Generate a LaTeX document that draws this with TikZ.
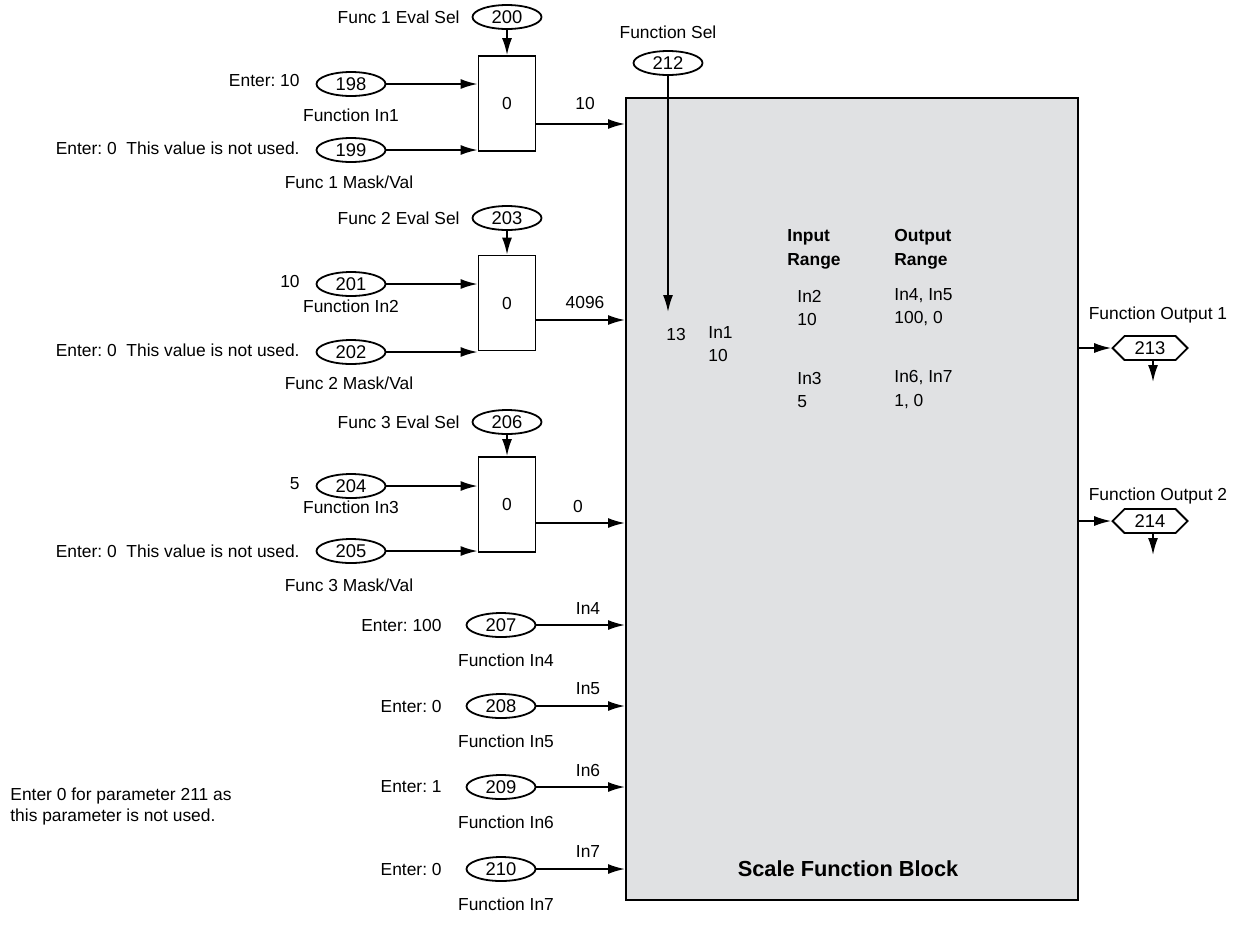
\documentclass[tikz,border=0pt]{standalone}
\usepackage{fontspec}
\setmainfont{Liberation Sans}
\usetikzlibrary{shapes.geometric, shapes.symbols, arrows.meta}

\definecolor{boxgray}{RGB}{224,225,227}
\frenchspacing

\begin{document}
\begin{tikzpicture}[x=0.5pt, y=-0.5pt, font=\fontsize{8.7}{10.5}\selectfont,
    par/.style={ellipse, draw, line width=0.9pt, minimum width=34.5pt, minimum height=12pt, inner sep=0pt, font=\fontsize{9.2}{10}\selectfont},
    mux/.style={rectangle, draw, line width=0.9pt, minimum width=28.5pt, minimum height=47.5pt},
    tag/.style={signal, signal to=east and west, draw, line width=0.9pt, minimum width=37.5pt, minimum height=12pt, inner sep=1pt, font=\fontsize{9.2}{10}\selectfont},
    sig/.style={line width=0.9pt, -{Latex[length=8.5pt, width=5pt]}},
    lbl/.style={inner sep=0pt}]
    \useasboundingbox (0,0) rectangle (1240,928);

    % Scale function block
    \node[draw, line width=0.9pt, fill=boxgray, minimum width=226pt, minimum height=401pt, anchor=north west] (SFB) at (625,97) {};
    \node[lbl, font=\fontsize{10.9}{13}\selectfont\bfseries] (SFB_T) at (848,869) {Scale Function Block};

    % Function 1
    \node[par] (P_200) at (507,17) {200};
    \node[lbl, anchor=east] (L_200) at (460,17) {Func 1 Eval Sel};
    \node[mux] (Mux_1) at (507,103.5) {0};
    \node[par] (P_198) at (351,84) {198};
    \node[lbl, anchor=east] (E_198) at (300,81) {Enter: 10};
    \node[lbl] (L_198) at (351,115) {Function In1};
    \node[par] (P_199) at (351,150) {199};
    \node[lbl, anchor=east] (E_199) at (300,148) {Enter: 0\ \ This value is not used.};
    \node[lbl] (L_199) at (349,182) {Func 1 Mask/Val};
    \node[lbl] (O_1) at (585,104) {10};

    % Function 2
    \node[par] (P_203) at (507,218) {203};
    \node[lbl, anchor=east] (L_203) at (460,218) {Func 2 Eval Sel};
    \node[mux] (Mux_2) at (507,303) {0};
    \node[par] (P_201) at (351,284) {201};
    \node[lbl, anchor=east] (E_201) at (300,281) {10};
    \node[lbl] (L_201) at (351,306) {Function In2};
    \node[par] (P_202) at (351,352) {202};
    \node[lbl, anchor=east] (E_202) at (300,350) {Enter: 0\ \ This value is not used.};
    \node[lbl] (L_202) at (349,383) {Func 2 Mask/Val};
    \node[lbl] (O_2) at (585,302) {4096};

    % Function 3
    \node[par] (P_206) at (507,422) {206};
    \node[lbl, anchor=east] (L_206) at (460,422) {Func 3 Eval Sel};
    \node[mux] (Mux_3) at (507,504.5) {0};
    \node[par] (P_204) at (351,486) {204};
    \node[lbl, anchor=east] (E_204) at (300,484) {5};
    \node[lbl] (L_204) at (351,507) {Function In3};
    \node[par] (P_205) at (351,551) {205};
    \node[lbl, anchor=east] (E_205) at (300,551) {Enter: 0\ \ This value is not used.};
    \node[lbl] (L_205) at (349,585) {Func 3 Mask/Val};
    \node[lbl] (O_3) at (578,506) {0};

    % Inputs 4 to 7
    \node[par] (P_207) at (501,625) {207};
    \node[lbl, anchor=east] (E_207) at (442,625) {Enter: 100};
    \node[lbl] (L_207) at (506,660) {Function In4};
    \node[lbl] (I_4) at (588,608) {In4};
    \node[par] (P_208) at (501,706) {208};
    \node[lbl, anchor=east] (E_208) at (442,706) {Enter: 0};
    \node[lbl] (L_208) at (506,741) {Function In5};
    \node[lbl] (I_5) at (588,689) {In5};
    \node[par] (P_209) at (501,787) {209};
    \node[lbl, anchor=east] (E_209) at (442,787) {Enter: 1};
    \node[lbl] (L_209) at (506,822) {Function In6};
    \node[lbl] (I_6) at (588,770) {In6};
    \node[par] (P_210) at (501,869) {210};
    \node[lbl, anchor=east] (E_210) at (442,869) {Enter: 0};
    \node[lbl] (L_210) at (506,904) {Function In7};
    \node[lbl] (I_7) at (588,851) {In7};

    \node[lbl, anchor=west, align=left] (Note) at (10,806) {Enter 0 for parameter 211 as\\this parameter is not used.};

    % Function select
    \node[par] (P_212) at (668,63) {212};
    \node[lbl] (L_212) at (668,32) {Function Sel};
    \coordinate (Sel_End) at (668,312);

    % Text inside the block
    \node[lbl] (T_13) at (676,334) {13};
    \node[lbl, anchor=west] (T_In1) at (708,333) {In1};
    \node[lbl, anchor=west] (T_In1v) at (708,355) {10};
    \node[lbl, anchor=west, align=left, font=\fontsize{8.7}{12}\selectfont\bfseries] (H_In) at (787,249) {Input\\Range};
    \node[lbl, anchor=west, align=left, font=\fontsize{8.7}{12}\selectfont\bfseries] (H_Out) at (894,249) {Output\\Range};
    \node[lbl, anchor=west] (T_In2) at (797,296) {In2};
    \node[lbl, anchor=west] (T_In2v) at (797,319) {10};
    \node[lbl, anchor=west] (T_In3) at (797,378) {In3};
    \node[lbl, anchor=west] (T_In3v) at (797,402) {5};
    \node[lbl, anchor=west] (T_Out1) at (894,296) {In4, In5};
    \node[lbl, anchor=west] (T_Out1v) at (894,319) {100, 0};
    \node[lbl, anchor=west] (T_Out2) at (894,378) {In6, In7};
    \node[lbl, anchor=west] (T_Out2v) at (894,402) {1, 0};

    % Outputs
    \node[tag] (T_213) at (1150,348) {213};
    \node[lbl] (L_213) at (1158,315) {Function Output 1};
    \coordinate (D_213) at (1153,382);
    \node[tag] (T_214) at (1150,521) {214};
    \node[lbl] (L_214) at (1158,496) {Function Output 2};
    \coordinate (D_214) at (1153,555);

    % Connections
    \draw[sig] (P_200) -- (Mux_1.north); \draw[sig] (P_198) -- (Mux_1.west |- P_198); \draw[sig] (P_199) -- (Mux_1.west |- P_199);
    \draw[sig] (P_203) -- (Mux_2.north); \draw[sig] (P_201) -- (Mux_2.west |- P_201); \draw[sig] (P_202) -- (Mux_2.west |- P_202);
    \draw[sig] (P_206) -- (Mux_3.north); \draw[sig] (P_204) -- (Mux_3.west |- P_204); \draw[sig] (P_205) -- (Mux_3.west |- P_205);

    \draw[sig] (Mux_1.east |- 0,124) -- (SFB.west |- 0,124);
    \draw[sig] (Mux_2.east |- 0,320) -- (SFB.west |- 0,320);
    \draw[sig] (Mux_3.east |- 0,523) -- (SFB.west |- 0,523);

    \draw[sig] (P_207) -- (SFB.west |- P_207); \draw[sig] (P_208) -- (SFB.west |- P_208);
    \draw[sig] (P_209) -- (SFB.west |- P_209); \draw[sig] (P_210) -- (SFB.west |- P_210);

    \draw[sig] (P_212) -- (Sel_End);

    \draw[sig] (SFB.east |- T_213) -- (T_213.west); \draw[sig] (T_213.south -| D_213) -- (D_213);
    \draw[sig] (SFB.east |- T_214) -- (T_214.west); \draw[sig] (T_214.south -| D_214) -- (D_214);

\end{tikzpicture}
\end{document}
